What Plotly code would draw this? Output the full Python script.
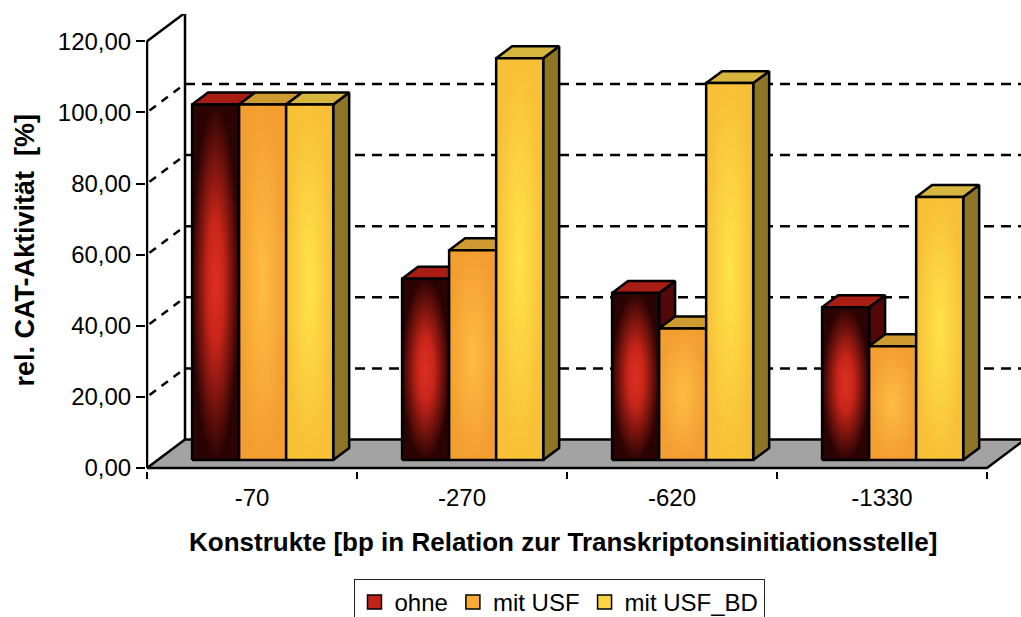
import plotly.graph_objects as go

# ---- data -------------------------------------------------------------
categories = ["-70", "-270", "-620", "-1330"]
series_names = ["ohne", "mit USF", "mit USF_BD"]
ohne = [100.0, 51.0, 47.0, 43.0]
mit_usf = [100.0, 59.0, 37.0, 32.0]
mit_usf_bd = [100.0, 113.0, 106.0, 74.0]
y_ticks = [0, 20, 40, 60, 80, 100, 120]

series_values = [ohne, mit_usf, mit_usf_bd]

# ---- pseudo-3D geometry (axis units) ---------------------------------
DEPTH_X = 0.181      # oblique shift of the full depth, in category units
DEPTH_Y = 8.0        # oblique shift of the full depth, in value units
BAR_FRONT = 0.28     # depth fraction where the bar front faces sit
BAR_BACK = 0.70      # depth fraction of the bar back faces
BAR_W = 0.224        # bar width in category units
Y_MAX = 120
N_CAT = len(categories)

# face colours per series: front gradient (centre -> rim), top, side, swatch
styles = [
    dict(front=[[0, "#dc3024"], [0.35, "#c82519"], [1, "#2a0303"]],
         top="#a81d14", side="#520808", swatch="#c0241b"),
    dict(front=[[0, "#fdbd43"], [1, "#f39e31"]],
         top="#cf9a30", side="#9a6c1e", swatch="#f7aa36"),
    dict(front=[[0, "#ffe34c"], [1, "#f8c037"]],
         top="#d6b63e", side="#8e7526", swatch="#fdd441"),
]

fig = go.Figure()


def poly(xs, ys, **kw):
    fig.add_trace(go.Scatter(
        x=xs + [xs[0]], y=ys + [ys[0]], mode="lines", fill="toself",
        line=dict(color="black", width=2.5), showlegend=False,
        hoverinfo="skip", **kw))


def line(xs, ys, width=2, dash="solid"):
    fig.add_trace(go.Scatter(
        x=xs, y=ys, mode="lines", showlegend=False, hoverinfo="skip",
        line=dict(color="black", width=width, dash=dash)))


# floor
poly([0, N_CAT, N_CAT + DEPTH_X, DEPTH_X], [0, 0, DEPTH_Y, DEPTH_Y],
     fillcolor="#a3a3a3")

# dashed gridlines on the side wall and the back wall
for v in y_ticks[1:-1]:
    line([0.012, DEPTH_X], [v + 0.5, v + DEPTH_Y], width=2.5, dash="8px,7px")
    line([DEPTH_X, N_CAT + 1], [v + DEPTH_Y, v + DEPTH_Y], width=2.5,
         dash="10px,7px")

# wall frame: front edge, top edge, back edge
line([0, 0], [0, Y_MAX], width=2.5)
line([0, DEPTH_X], [Y_MAX, Y_MAX + DEPTH_Y], width=2.5)
line([DEPTH_X, DEPTH_X], [DEPTH_Y, Y_MAX + DEPTH_Y], width=2.5)

# bars: side + top first, front face last, left to right
fx, fy = BAR_FRONT * DEPTH_X, BAR_FRONT * DEPTH_Y
dx, dy = (BAR_BACK - BAR_FRONT) * DEPTH_X, (BAR_BACK - BAR_FRONT) * DEPTH_Y
for ci in range(N_CAT):
    centre = ci + 0.5 + fx
    for si, values in enumerate(series_values):
        v = values[ci]
        st = styles[si]
        x0 = centre - 1.5 * BAR_W + si * BAR_W
        x1 = x0 + BAR_W
        base, top = fy, fy + v
        poly([x1, x1 + dx, x1 + dx, x1], [base, base + dy, top + dy, top],
             fillcolor=st["side"])
        poly([x0, x1, x1 + dx, x0 + dx], [top, top, top + dy, top + dy],
             fillcolor=st["top"])
        poly([x0, x1, x1, x0], [base, base, top, top],
             fillgradient=dict(type="radial", colorscale=st["front"]))

# legend entries
for name, st in zip(series_names, styles):
    fig.add_trace(go.Scatter(
        x=[None], y=[None], mode="markers", name=name,
        marker=dict(symbol="square", size=14, color=st["swatch"],
                    line=dict(color="black", width=1.5))))

FONT = "Liberation Sans, Arial, sans-serif"

fig.update_layout(
    width=1021, height=617,
    margin=dict(l=146, r=0, t=14, b=146, autoexpand=False),
    paper_bgcolor="white", plot_bgcolor="white",
    separators=",.",
    font=dict(family=FONT, color="black"),
    xaxis=dict(
        range=[-1 / 210, 874 / 210], showgrid=False, zeroline=False,
        showline=False, tickmode="array",
        tickvals=[i + 0.5 for i in range(N_CAT)], ticktext=categories,
        ticks="", tickfont=dict(size=24, family=FONT),
        ticklabelstandoff=10,
        minor=dict(tickmode="array", tickvals=list(range(N_CAT + 1)),
                   ticks="outside", ticklen=7, tickwidth=1.5,
                   tickcolor="black", showgrid=False),
    ),
    yaxis=dict(
        range=[-0.84, 127.67], showgrid=False, zeroline=False,
        showline=False, tickmode="array", tickvals=y_ticks,
        tickformat=".2f", ticks="outside", ticklen=9, tickwidth=1.5,
        tickcolor="black", tickfont=dict(size=24, family=FONT),
    ),
    showlegend=True,
    legend=dict(
        orientation="h", x=0.472, xanchor="center", y=-0.236,
        yanchor="top", bordercolor="#222222", borderwidth=1,
        font=dict(size=24, family=FONT), bgcolor="white",
        itemwidth=30, tracegroupgap=0,
    ),
    annotations=[
        dict(text="<b>rel. CAT-Aktivität  [%]</b>", textangle=-90,
             xref="paper", yref="paper", x=-0.138, y=0.483,
             xanchor="center", yanchor="middle",
             showarrow=False, font=dict(size=27, family=FONT)),
        dict(text="<b>Konstrukte [bp in Relation zur Transkriptonsinitiationsstelle]</b>",
             xref="paper", yref="paper", x=0.4766, y=-0.155,
             xanchor="center", yanchor="middle",
             showarrow=False, font=dict(size=26, family=FONT)),
    ],
)

fig.write_html("out.html")
